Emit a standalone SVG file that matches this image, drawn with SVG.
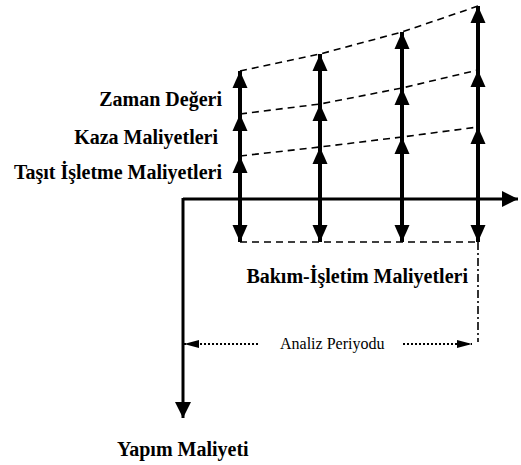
<svg xmlns="http://www.w3.org/2000/svg" width="521" height="465" viewBox="0 0 521 465">
<style>
.lbl{font-family:"Liberation Serif","Times New Roman",serif;font-weight:bold;font-size:20px;fill:#000}
.small{font-family:"Liberation Serif","Times New Roman",serif;font-size:16px;fill:#000}
.arr{stroke:#000;stroke-width:4;fill:none}
.dash{stroke:#000;stroke-width:1.6;fill:none;stroke-dasharray:7,5}
.axis{stroke:#000;stroke-width:3;fill:none}
.dot{stroke:#000;stroke-width:2;fill:none;stroke-dasharray:2,2}
</style>
<defs>
<marker id="ah" markerUnits="userSpaceOnUse" markerWidth="18" markerHeight="16" refX="17" refY="7.5" orient="auto-start-reverse" viewBox="0 0 18 15">
<path d="M0,0 L17,7.5 L0,15 z" fill="#000"/>
</marker>
<marker id="ax" markerUnits="userSpaceOnUse" markerWidth="18" markerHeight="16" refX="16" refY="8" orient="auto" viewBox="0 0 18 16">
<path d="M0,0 L16,8 L0,16 z" fill="#000"/>
</marker>
<marker id="sm" markerUnits="userSpaceOnUse" markerWidth="16" markerHeight="10" refX="15" refY="4" orient="auto-start-reverse" viewBox="0 0 16 8">
<path d="M0,0 L15,4 L0,8 z" fill="#000"/>
</marker>
</defs>
<g id="connectors">
<path class="axis" d="M183,199 H518" marker-end="url(#ax)"/>
<path class="axis" d="M183,198 V418" marker-end="url(#ax)"/>
<path class="dash" d="M240,71 L320,54 L402,32 L478,6"/>
<path class="dash" d="M240,114 L320,104 L402,88 L478,70"/>
<path class="dash" d="M240,156 L320,147 L402,137 L478,127"/>
<path class="dash" d="M240,242 H478"/>
<path d="M478,242 V342" stroke="#000" stroke-width="1.6" fill="none" stroke-dasharray="8,3,2,3"/>
<path class="arr" d="M240,242 V156" marker-start="url(#ah)" marker-end="url(#ah)"/>
<path class="arr" d="M240,156 V114" marker-end="url(#ah)"/>
<path class="arr" d="M240,114 V71" marker-end="url(#ah)"/>
<path class="arr" d="M320,242 V147" marker-start="url(#ah)" marker-end="url(#ah)"/>
<path class="arr" d="M320,147 V104" marker-end="url(#ah)"/>
<path class="arr" d="M320,104 V54" marker-end="url(#ah)"/>
<path class="arr" d="M402,242 V137" marker-start="url(#ah)" marker-end="url(#ah)"/>
<path class="arr" d="M402,137 V88" marker-end="url(#ah)"/>
<path class="arr" d="M402,88 V32" marker-end="url(#ah)"/>
<path class="arr" d="M478,242 V127" marker-start="url(#ah)" marker-end="url(#ah)"/>
<path class="arr" d="M478,127 V70" marker-end="url(#ah)"/>
<path class="arr" d="M478,70 V6" marker-end="url(#ah)"/>
<path class="dot" d="M258,344 H184" marker-end="url(#sm)"/>
<path class="dot" d="M403,344 H472" marker-end="url(#sm)"/>
</g>
<g id="zaman"><text class="lbl" x="222" y="106" text-anchor="end">Zaman Değeri</text></g>
<g id="kaza"><text class="lbl" x="218" y="144" text-anchor="end">Kaza Maliyetleri</text></g>
<g id="tasit"><text class="lbl" x="222" y="179" text-anchor="end">Taşıt İşletme Maliyetleri</text></g>
<g id="bakim"><text class="lbl" x="468" y="283" text-anchor="end">Bakım-İşletim Maliyetleri</text></g>
<g id="analiz"><text class="small" x="280" y="349">Analiz Periyodu</text></g>
<g id="yapim"><text class="lbl" x="117" y="456">Yapım Maliyeti</text></g>
</svg>
